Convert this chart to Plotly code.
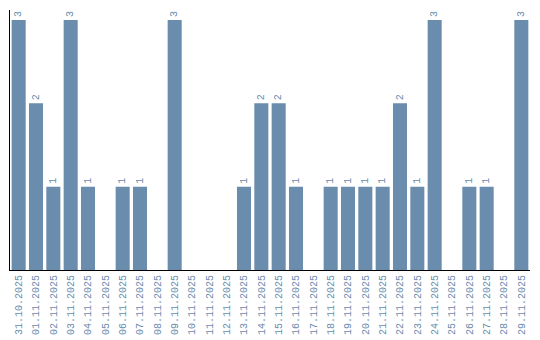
import plotly.graph_objects as go

dates = ["31.10.2025", "01.11.2025", "02.11.2025", "03.11.2025", "04.11.2025",
         "05.11.2025", "06.11.2025", "07.11.2025", "08.11.2025", "09.11.2025",
         "10.11.2025", "11.11.2025", "12.11.2025", "13.11.2025", "14.11.2025",
         "15.11.2025", "16.11.2025", "17.11.2025", "18.11.2025", "19.11.2025",
         "20.11.2025", "21.11.2025", "22.11.2025", "23.11.2025", "24.11.2025",
         "25.11.2025", "26.11.2025", "27.11.2025", "28.11.2025", "29.11.2025"]
counts = [3, 2, 1, 3, 1, 0, 1, 1, 0, 3, 0, 0, 0, 1, 2, 2, 1, 0, 1, 1, 1, 1, 2, 1, 3, 0, 1, 1, 0, 3]

color = "#6a8cad"
labels = [str(v) if v > 0 else "" for v in counts]

fig = go.Figure(go.Bar(
    x=dates, y=counts, marker_color=color, marker_line_width=0,
    text=labels, textposition="outside", textangle=-90,
    textfont=dict(family="Liberation Mono", size=10, color=color),
    cliponaxis=False,
))
fig.update_layout(
    width=540, height=340, margin=dict(l=10, r=10, t=10, b=70),
    paper_bgcolor="white", plot_bgcolor="white", bargap=0.19,
    showlegend=False,
    xaxis=dict(type="category", tickangle=-90, showgrid=False, showline=True,
               linecolor="black", linewidth=1, automargin=False,
               tickfont=dict(family="Liberation Mono", size=10, color=color),
               ticks="", layer="below traces"),
    yaxis=dict(range=[0, 3.12], showgrid=False, showticklabels=False, showline=True,
               linecolor="black", linewidth=1, ticks="", zeroline=False,
               automargin=False, layer="below traces"),
)
fig.write_html("out.html")
